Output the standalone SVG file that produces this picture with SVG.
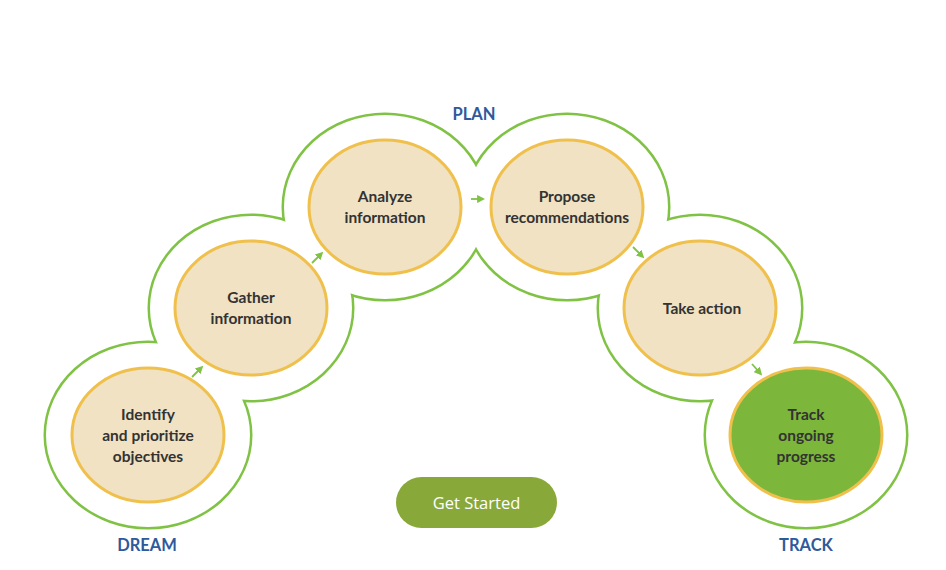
<svg xmlns="http://www.w3.org/2000/svg" width="946" height="570" viewBox="0 0 946 570">
<defs>
<style>
.ring{fill:none;stroke:#7fc244;stroke-width:5}
.ringfill{fill:#fff;stroke:none}
.inner{fill:#f0e2c3;stroke:#f0c04c;stroke-width:3}
.innerg{fill:#7cb63a;stroke:#f0c04c;stroke-width:3}
.t{font-family:Lato,"Open Sans",sans-serif;font-weight:bold;font-size:15.5px;fill:#333;text-anchor:middle}
.lbl{font-family:Lato,"Open Sans",sans-serif;font-weight:bold;font-size:16.5px;fill:#2e5a9c;text-anchor:middle}
.arr{stroke:#7fc244;stroke-width:1.8;fill:none;marker-end:url(#ah)}
</style>
<marker id="ah" viewBox="0 0 10 10" refX="6" refY="5" markerWidth="4.5" markerHeight="4.5" orient="auto">
<path d="M0,0 L10,5 L0,10 z" fill="#7fc244"/>
</marker>
</defs>
<rect width="946" height="570" fill="#fff"/>
<g id="outline">
<ellipse class="ring" cx="148" cy="435" rx="102" ry="92"/>
<ellipse class="ring" cx="251" cy="308" rx="101" ry="92"/>
<ellipse class="ring" cx="385" cy="207" rx="101" ry="92"/>
<ellipse class="ring" cx="567" cy="207" rx="101" ry="92"/>
<ellipse class="ring" cx="700" cy="308" rx="101" ry="92"/>
<ellipse class="ring" cx="806" cy="435" rx="100" ry="92"/>
<ellipse class="ringfill" cx="148" cy="435" rx="102" ry="92"/>
<ellipse class="ringfill" cx="251" cy="308" rx="101" ry="92"/>
<ellipse class="ringfill" cx="385" cy="207" rx="101" ry="92"/>
<ellipse class="ringfill" cx="567" cy="207" rx="101" ry="92"/>
<ellipse class="ringfill" cx="700" cy="308" rx="101" ry="92"/>
<ellipse class="ringfill" cx="806" cy="435" rx="100" ry="92"/>
</g>
<g id="connectors">
<path class="arr" d="M192,377 L201,368"/>
<path class="arr" d="M312,263 L321,254"/>
<path class="arr" d="M471,199 L482,199"/>
<path class="arr" d="M633,247 L642,256"/>
<path class="arr" d="M752,364 L760,373"/>
</g>
<g id="n1">
<ellipse class="inner" cx="148" cy="435" rx="76" ry="67"/>
<text class="t" x="148" y="420">Identify</text>
<text class="t" x="148" y="441">and prioritize</text>
<text class="t" x="148" y="462">objectives</text>
</g>
<g id="n2">
<ellipse class="inner" cx="251" cy="308" rx="76" ry="67"/>
<text class="t" x="251" y="303">Gather</text>
<text class="t" x="251" y="324">information</text>
</g>
<g id="n3">
<ellipse class="inner" cx="385" cy="207" rx="76" ry="67"/>
<text class="t" x="385" y="202">Analyze</text>
<text class="t" x="385" y="223">information</text>
</g>
<g id="n4">
<ellipse class="inner" cx="567" cy="207" rx="76" ry="67"/>
<text class="t" x="567" y="202">Propose</text>
<text class="t" x="567" y="223">recommendations</text>
</g>
<g id="n5">
<ellipse class="inner" cx="700" cy="308" rx="76" ry="67"/>
<text class="t" x="702" y="314">Take action</text>
</g>
<g id="n6">
<ellipse class="innerg" cx="806" cy="435" rx="76" ry="67"/>
<text class="t" x="806" y="420">Track</text>
<text class="t" x="806" y="441">ongoing</text>
<text class="t" x="806" y="462">progress</text>
</g>
<g id="labels">
<text class="lbl" x="147" y="551">DREAM</text>
<text class="lbl" x="474" y="120">PLAN</text>
<text class="lbl" x="806" y="551">TRACK</text>
</g>
<g id="button">
<rect x="396" y="477" width="161" height="51" rx="25.5" fill="#88a93a"/>
<text x="476.5" y="509" font-family="'Open Sans',Lato,sans-serif" font-size="16.5" fill="#fff" text-anchor="middle">Get Started</text>
</g>
</svg>
